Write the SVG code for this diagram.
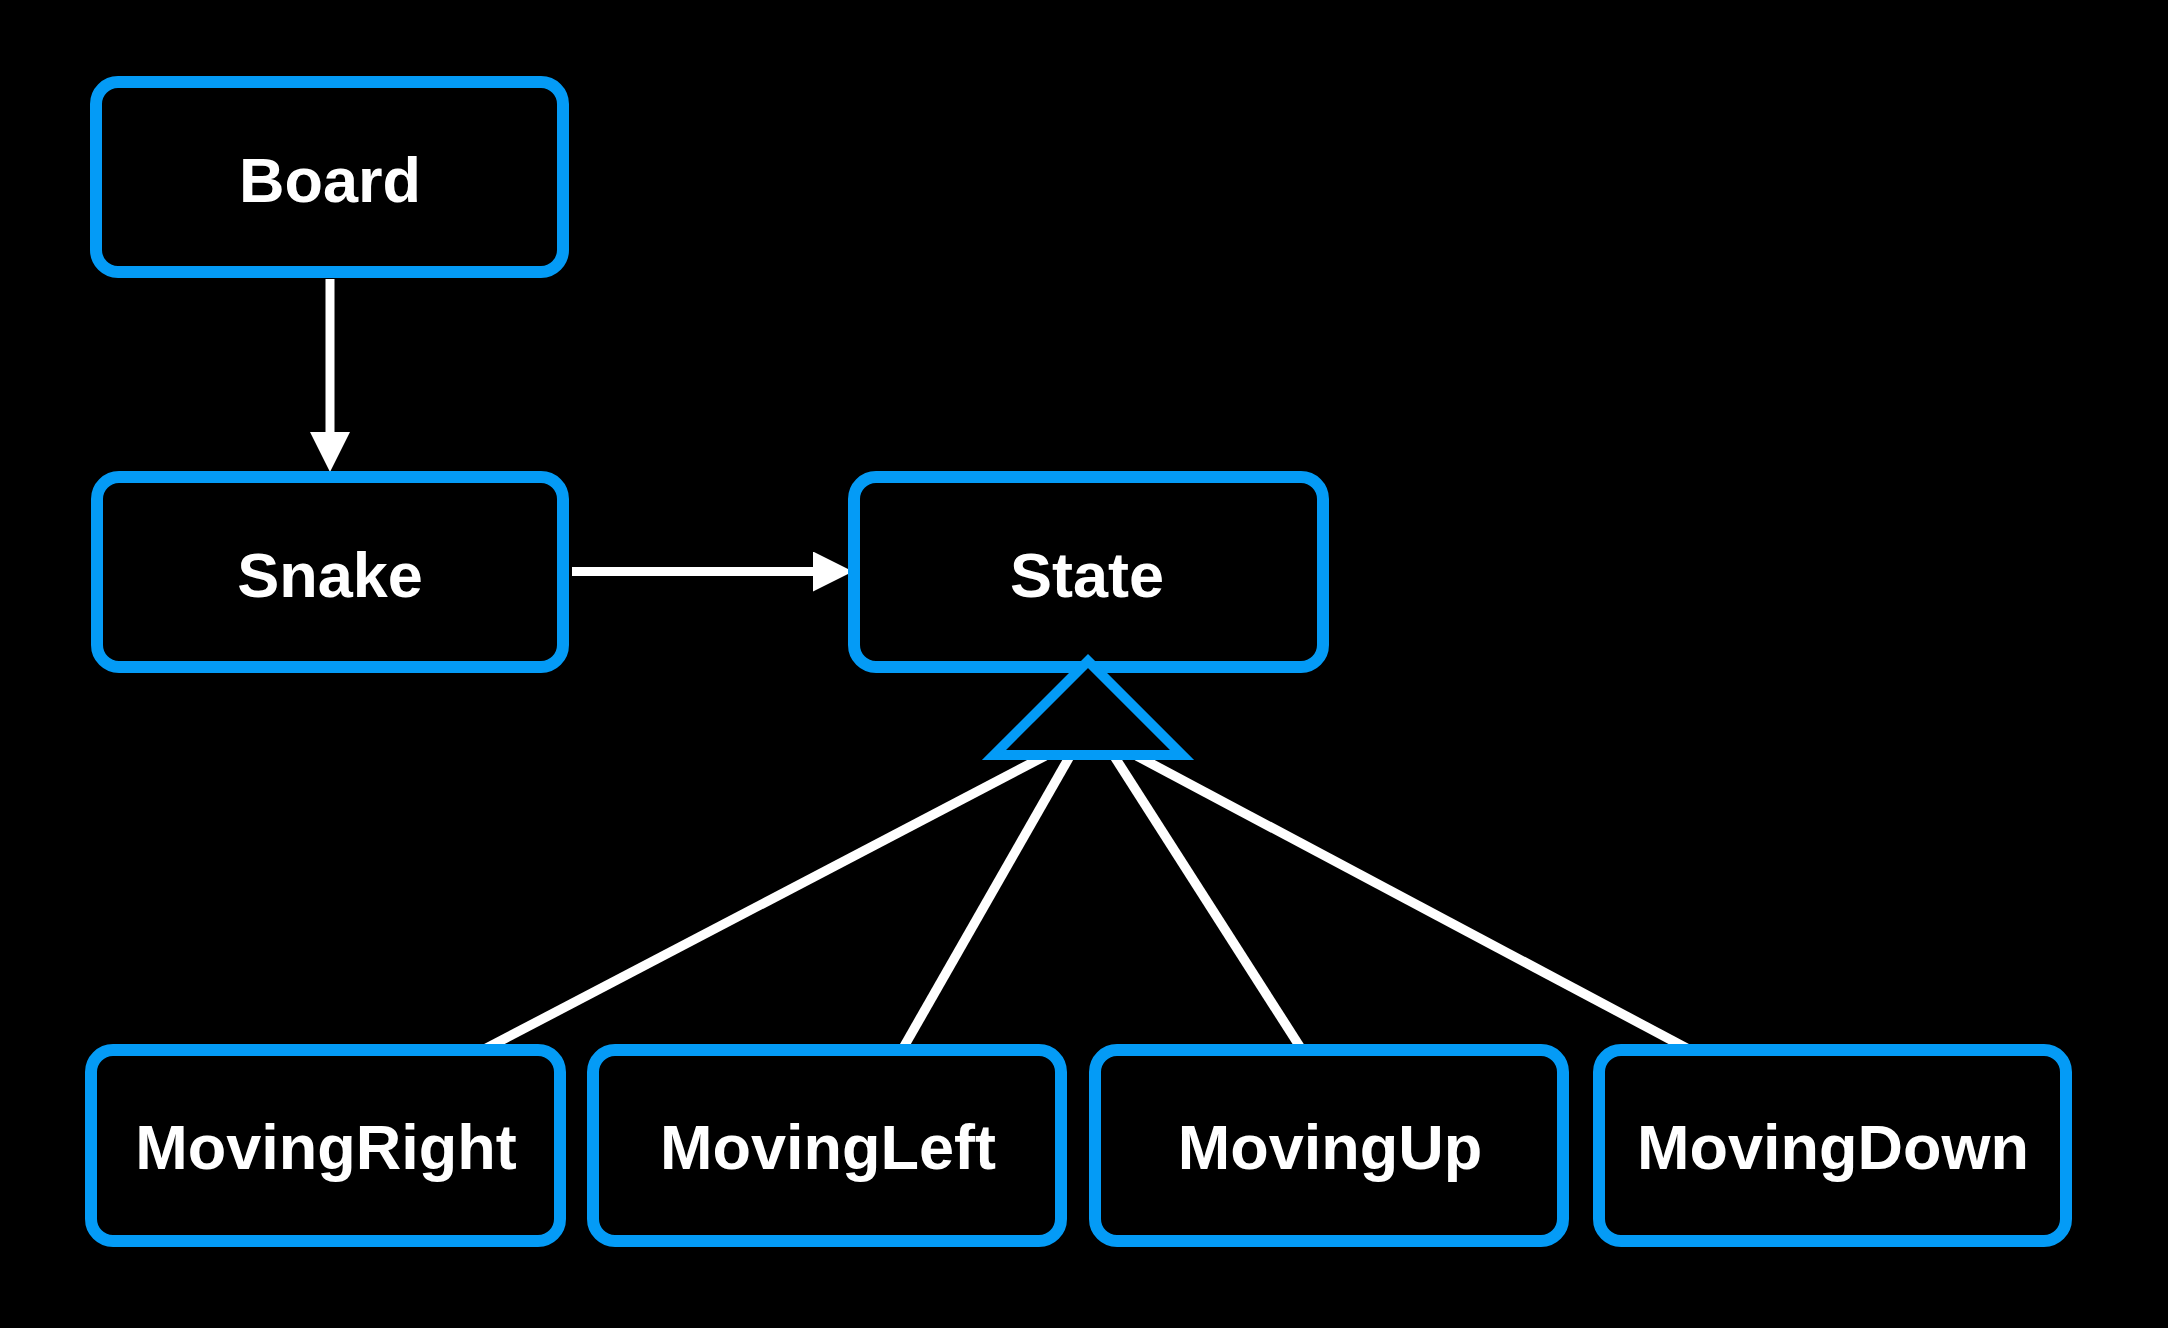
<svg xmlns="http://www.w3.org/2000/svg" width="2168" height="1328" viewBox="0 0 2168 1328">
  <style>
    .box { fill: #000000; stroke: #049BF6; stroke-width: 12; }
    .label { font-family: "Liberation Sans", Arial, Helvetica, sans-serif; font-weight: bold; font-size: 63px; fill: #ffffff; text-anchor: middle; }
    .assoc { stroke: #ffffff; stroke-width: 9; fill: none; }
    .inherit { stroke: #ffffff; stroke-width: 9.5; fill: none; }
    .tri { fill: #000000; stroke: #049BF6; stroke-width: 10; stroke-linejoin: miter; }
  </style>
  <defs>
    <marker id="arrow" viewBox="0 0 40 40" refX="1" refY="20" markerWidth="40" markerHeight="40" markerUnits="userSpaceOnUse" orient="auto">
      <path d="M0,0 L40,20 L0,40 Z" fill="#ffffff"/>
    </marker>
  </defs>
  <rect x="0" y="0" width="2168" height="1328" fill="#000000"/>

  <g id="connectors">
    <line class="assoc" x1="330" y1="279" x2="330" y2="433" marker-end="url(#arrow)"/>
    <line class="assoc" x1="572" y1="571.5" x2="814" y2="571.5" marker-end="url(#arrow)"/>
    <line class="inherit" x1="1045" y1="756" x2="483" y2="1050"/>
    <line class="inherit" x1="1070" y1="756" x2="902" y2="1050"/>
    <line class="inherit" x1="1114" y1="756" x2="1302" y2="1050"/>
    <line class="inherit" x1="1137" y1="756" x2="1690" y2="1050"/>
  </g>

  <g id="board">
    <rect class="box" x="96" y="82" width="467" height="190" rx="22"/>
    <text class="label" x="330" y="202">Board</text>
  </g>
  <g id="snake">
    <rect class="box" x="97" y="477" width="466" height="190" rx="22"/>
    <text class="label" x="330" y="597">Snake</text>
  </g>
  <g id="state">
    <rect class="box" x="854" y="477" width="469" height="190" rx="22"/>
    <text class="label" x="1087" y="597">State</text>
  </g>
  <g id="movingright">
    <rect class="box" x="91" y="1050" width="469" height="191" rx="22"/>
    <text class="label" x="326" y="1169">MovingRight</text>
  </g>
  <g id="movingleft">
    <rect class="box" x="593" y="1050" width="468" height="191" rx="22"/>
    <text class="label" x="828" y="1169">MovingLeft</text>
  </g>
  <g id="movingup">
    <rect class="box" x="1095" y="1050" width="468" height="191" rx="22"/>
    <text class="label" x="1330" y="1169">MovingUp</text>
  </g>
  <g id="movingdown">
    <rect class="box" x="1599" y="1050" width="467" height="191" rx="22"/>
    <text class="label" x="1833" y="1169">MovingDown</text>
  </g>

  <g id="inheritance-marker">
    <polygon class="tri" points="1088,661 1182,755 994,755"/>
  </g>
</svg>
